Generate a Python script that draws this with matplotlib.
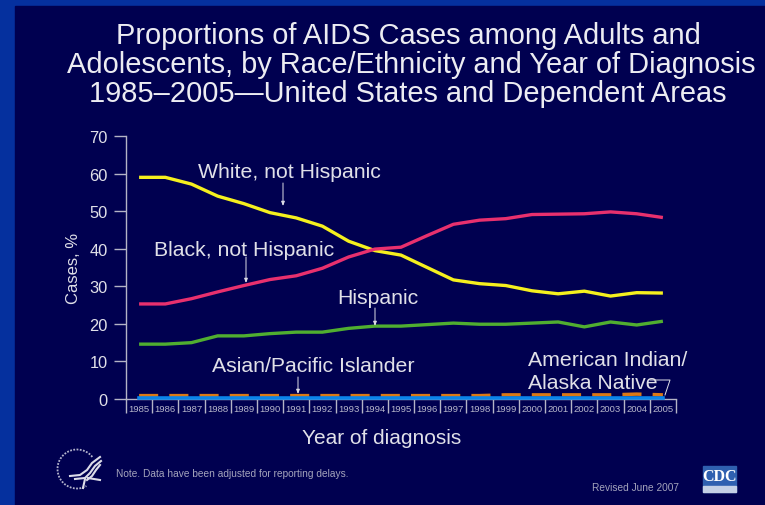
import matplotlib
matplotlib.use('Agg')
import matplotlib.pyplot as plt
from matplotlib.patches import Rectangle, Arc

years = list(range(1985, 2006))
white = [59, 59, 57.2, 54, 52, 49.6, 48.2, 46, 42, 39.5, 38.3, 35, 31.7, 30.7, 30.2, 28.8, 28.0, 28.7, 27.4, 28.3, 28.2]
black = [25.3, 25.3, 26.7, 28.5, 30.2, 31.8, 32.8, 34.8, 37.8, 39.9, 40.4, 43.5, 46.5, 47.6, 48, 49.1, 49.2, 49.3, 49.8, 49.3, 48.3]
hispanic = [14.6, 14.6, 15.0, 16.8, 16.8, 17.4, 17.8, 17.8, 18.8, 19.4, 19.4, 19.8, 20.2, 19.9, 19.9, 20.2, 20.5, 19.2, 20.5, 19.7, 20.7]
asian = [0.9, 0.9, 0.9, 0.9, 0.9, 0.9, 0.9, 0.9, 0.9, 0.9, 0.9, 0.9, 0.9, 0.9, 1.1, 1.1, 1.1, 1.1, 1.1, 1.3, 1.1]
native = [0.2] * 21
y_ticks = [0, 10, 20, 30, 40, 50, 60, 70]

BG = '#000050'
BORDER = '#05309e'
TEXT = '#e0e0e8'
AXIS = '#b4b4c6'
W, H = 765, 506

plt.rcParams['font.family'] = ['Liberation Sans', 'DejaVu Sans']
fig = plt.figure(figsize=(W / 100, H / 100), dpi=100, facecolor=BORDER)

# dark slide panel inside the blue frame
fig.add_artist(Rectangle((15 / W, 0), (W - 15) / W, 1 - 7 / H, transform=fig.transFigure, color=BG, zorder=0))


def px(x, y):
    return x / W, 1 - y / H


def pixel_line(points, **kw):
    xs = [p[0] / W for p in points]
    ys = [1 - p[1] / H for p in points]
    fig.add_artist(plt.Line2D(xs, ys, **kw))


# plot area: x from 126 to 676 px, y from 400 (0) to 137 (70)
ax = fig.add_axes([126 / W, 1 - 400 / H, 550 / W, 263 / H])
ax.patch.set_alpha(0)
ax.set_xlim(1984.5, 2005.5)
ax.set_ylim(0, 70)

ax.plot(years, white, color='#f5f01e', lw=2.4, solid_capstyle='butt')
ax.plot(years, black, color='#e8306e', lw=2.4, solid_capstyle='butt')
ax.plot(years, hispanic, color='#50ae30', lw=2.4, solid_capstyle='butt')
ax.plot(years, asian, color='#dc7814', lw=2.5, dashes=(5.5, 3.2), clip_on=False, zorder=3)
ax.plot(years, native, color='#0a84ea', lw=2.6, clip_on=False, zorder=4)

for s in ['top', 'right']:
    ax.spines[s].set_visible(False)
ax.spines['left'].set_color(AXIS)
ax.spines['left'].set_linewidth(1)
ax.spines['bottom'].set_color(AXIS)
ax.spines['bottom'].set_linewidth(1)

ax.set_yticks(y_ticks)
ax.tick_params(axis='y', length=8.6, width=1, color=AXIS, labelcolor=TEXT, labelsize=11.8, pad=4.5)
fig.text(*px(74, 268), 'Cases, %', color=TEXT, fontsize=12, rotation=90, ha='center', va='center')

# year labels sit between ticks that hang under the axis
ax.set_xticks([y - 0.5 for y in years] + [2005.5])
ax.set_xticklabels([])
ax.tick_params(axis='x', length=10, width=1, color=AXIS, direction='out')
for y in years:
    ax.annotate(str(y), (y, 0), xytext=(0, -6.8), textcoords='offset points', ha='center', va='center',
                color='#b8b8cc', fontsize=6.8, annotation_clip=False)
fig.text(*px(382, 439), 'Year of diagnosis', color=TEXT, fontsize=15, ha='center', va='center')

# series labels with their thin pointers
labels = [
    ('White, not Hispanic', 289, 173, 283, 184, 283, 207),
    ('Black, not Hispanic', 244, 250, 246, 258, 246, 284),
    ('Hispanic', 378, 298, 375, 309, 375, 327),
    ('Asian/Pacific Islander', 313, 367, 298, 378, 298, 395),
]
for text, tx, ty, x0, y0, x1, y1 in labels:
    fig.text(*px(tx, ty), text, color=TEXT, fontsize=15.3, ha='center', va='center')
    ax.annotate('', xy=px(x1, y1), xytext=px(x0, y0), xycoords='figure fraction', textcoords='figure fraction',
                arrowprops=dict(arrowstyle='-|>,head_width=0.1,head_length=0.25', color=TEXT, lw=0.7, shrinkA=0, shrinkB=0))

fig.text(*px(528, 361), 'American Indian/', color=TEXT, fontsize=15.3, ha='left', va='center')
fig.text(*px(528, 384), 'Alaska Native', color=TEXT, fontsize=15.3, ha='left', va='center')
pixel_line([(650, 381), (670, 381), (665, 396)], color=TEXT, lw=0.7)

# title block
title = ['Proportions of AIDS Cases among Adults and',
         'Adolescents, by Race/Ethnicity and Year of Diagnosis',
         '1985\u20132005\u2014United States and Dependent Areas']
for line, xp, yp in zip(title, [408, 411, 408], [36, 65, 94]):
    fig.text(*px(xp, yp), line, color='#ececf2', fontsize=20.9, ha='center', va='center')

fig.text(*px(116, 474), 'Note. Data have been adjusted for reporting delays.', color='#a4a4bc', fontsize=7.3, ha='left', va='center')
fig.text(*px(592, 488), 'Revised June 2007', color='#a4a4bc', fontsize=7.3, ha='left', va='center')

# HHS emblem: dotted ring and stylised bird
ring = Arc((77 / W, 1 - 470 / H), 39 / W, 39 / H, theta1=50, theta2=290, transform=fig.transFigure,
           color='#b4b4cc', lw=1.3, linestyle=(0, (1, 0.8)))
fig.add_artist(ring)
for stripe in [[(100, 458), (92, 464), (87, 471), (80, 476), (70, 477)],
               [(101, 462), (95, 467), (90, 474), (85, 479), (75, 480)],
               [(100, 466), (96, 471), (92, 477), (87, 481)],
               [(88, 479), (100, 481)],
               [(85, 480), (83, 489)]]:
    pixel_line(stripe, color='#dcdce8', lw=1.5)

# CDC badge
fig.add_artist(Rectangle((703 / W, 1 - 493 / H), 33 / W, 26 / H, transform=fig.transFigure, color='#2f60b0', zorder=2))
fig.add_artist(Rectangle((703 / W, 1 - 493 / H), 33 / W, 6 / H, transform=fig.transFigure, color='#c4d0e6', zorder=3))
fig.text(*px(719.5, 477), 'CDC', color='white', fontsize=11.5, family='Liberation Serif', weight='bold', ha='center', va='center', zorder=4)

fig.savefig('out.png', dpi=100, facecolor=fig.get_facecolor())
